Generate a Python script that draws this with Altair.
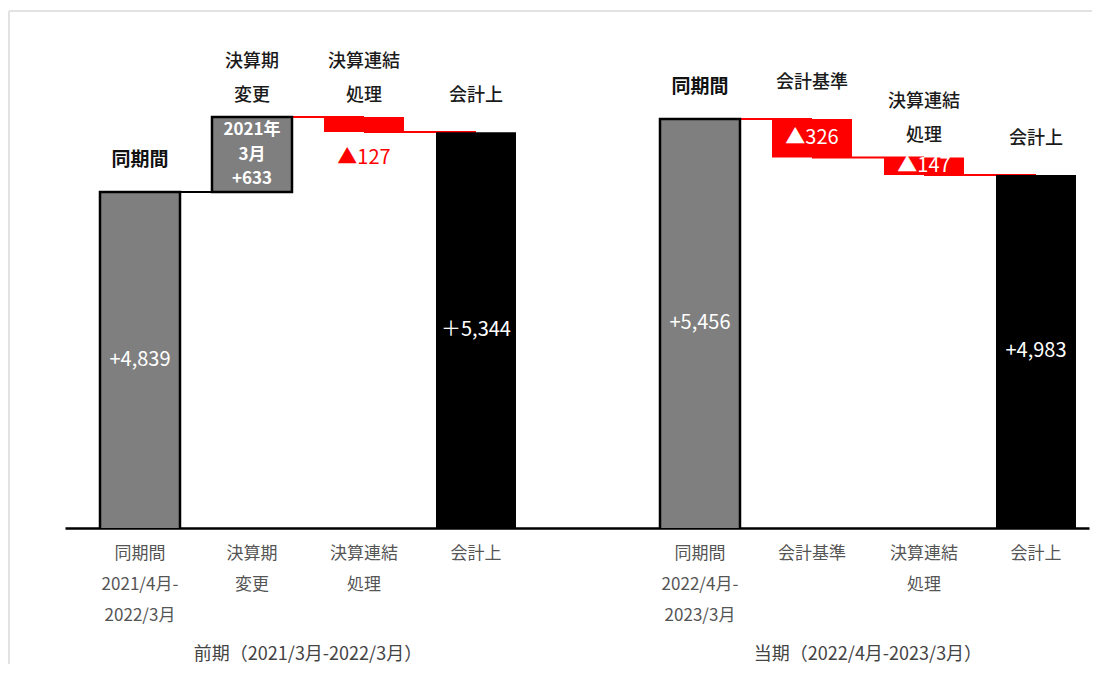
import altair as alt
import pandas as pd

# ---------------- data ----------------
keys = ["p1", "p2", "p3", "p4", "gap", "c1", "c2", "c3", "c4"]
groups = ["前期", "前期", "前期", "前期", "", "当期", "当期", "当期", "当期"]
kinds = ["start", "up", "down", "total", "gap", "start", "down", "down", "total"]
values = [4839, 633, -127, 5344, 0, 5456, -326, -147, 4983]
axis_labels = ["同期間|2021/4月-|2022/3月", "決算期|変更", "決算連結|処理", "会計上", "",
               "同期間|2022/4月-|2023/3月", "会計基準", "決算連結|処理", "会計上"]
top_labels = ["同期間", "決算期|変更", "決算連結|処理", "会計上", "",
              "同期間", "会計基準", "決算連結|処理", "会計上"]
value_labels = ["+4,839", "2021年|3月|+633", "▲127", "＋5,344", "",
                "+5,456", "▲326", "▲147", "+4,983"]
group_labels = ["前期（2021/3月-2022/3月）", "当期（2022/4月-2023/3月）"]
group_anchor = ["p2", "c2"]

# ---------------- layout / style ----------------
W, H = 1024, 509
Y_DOMAIN = [2000, 6300]
below_keys = {"p3"}
FONT = "Noto Sans CJK JP"

rows = []
run = 0
for i, k in enumerate(keys):
    kind, v = kinds[i], values[i]
    if kind == "gap":
        continue
    if kind in ("start", "total"):
        base, top = 0, v
        run = v
    elif kind == "up":
        base, top = run, run + v
        run += v
    else:
        top, base = run, run + v
        run += v
    vis_base = max(base, Y_DOMAIN[0])
    rows.append(dict(key=k, group=groups[i], kind=kind, base=base, top=top,
                     mid=(vis_base + top) / 2, level=run,
                     top_label=top_labels[i], value_label=value_labels[i],
                     nlines=len(top_labels[i].split("|"))))
df = pd.DataFrame(rows)

conn = []
for a, b in zip(rows[:-1], rows[1:]):
    if a["group"] == b["group"]:
        conn.append(dict(k1=a["key"], k2=b["key"], level=a["level"],
                         col="black" if b["kind"] == "up" else "red"))
cdf = pd.DataFrame(conn)

gdf = pd.DataFrame(dict(key=group_anchor, label=group_labels))

label_expr = "split([" + ",".join("'%s'" % s for s in axis_labels) + "][indexof([" + \
    ",".join("'%s'" % k for k in keys) + "], datum.value)], '|')"

xscale = alt.Scale(domain=keys, paddingInner=0.2857, paddingOuter=0.2143, align=0.729)
xaxis = alt.Axis(title=None, ticks=False, labelAngle=0, labelExpr=label_expr,
                 labelFontSize=17, labelColor="#555555", labelLineHeight=31,
                 labelPadding=17, domainColor="black", domainWidth=2.5,
                 labelOverlap=False, labelLimit=0, labelFont=FONT)
yscale = alt.Scale(domain=Y_DOMAIN, zero=False, nice=False)


def X(field):
    return alt.X(field + ":N", scale=xscale, axis=xaxis, sort=keys)


def Y(field):
    return alt.Y(field + ":Q", scale=yscale, axis=None)


one = pd.DataFrame({"a": [0]})
frame_top = alt.Chart(one).mark_rule(stroke="#e2e2e2", strokeWidth=2).encode(
    x=alt.value(-56), x2=alt.value(1200), y=alt.value(-8))
frame_left = alt.Chart(one).mark_rule(stroke="#e2e2e2", strokeWidth=2).encode(
    x=alt.value(-56), y=alt.value(-8), y2=alt.value(800))

rules = alt.Chart(cdf).mark_rule(strokeWidth=2).encode(
    x=X("k1"), x2="k2", y=Y("level"),
    color=alt.Color("col:N", scale=None, legend=None))

gray = alt.Chart(df[df.kind.isin(["start", "up"])]).mark_bar(
    clip=True, color="#7f7f7f", stroke="black", strokeWidth=2.5
).encode(x=X("key"), y=Y("base"), y2="top")

red = alt.Chart(df[df.kind == "down"]).mark_bar(clip=True, color="#ff0000").encode(
    x=X("key"), y=Y("base"), y2="top")

black = alt.Chart(df[df.kind == "total"]).mark_bar(clip=True, color="#000000").encode(
    x=X("key"), y=Y("base"), y2="top")


def lines_text(data, field, **kw):
    return alt.Chart(data).transform_calculate(
        t="split(datum.%s, '|')" % field
    ).mark_text(font=FONT, **kw)


top_start = lines_text(df[df.kind == "start"], "top_label", baseline="middle", dy=-32,
                       fontSize=19, fontWeight="bold", color="#111111").encode(
    x=X("key"), y=Y("top"), text="t:N")
top_single = lines_text(df[(df.kind != "start") & (df.nlines == 1)], "top_label",
                        baseline="middle", dy=-36, fontSize=18, fontWeight=500,
                        color="#1a1a1a").encode(
    x=X("key"), y=Y("top"), text="t:N")
top_multi = lines_text(df[df.nlines == 2], "top_label", baseline="middle", dy=-55,
                       lineHeight=34, fontSize=18, fontWeight=500, color="#1a1a1a").encode(
    x=X("key"), y=Y("top"), text="t:N")

inner_tot = lines_text(df[df.kind.isin(["start", "total"])], "value_label",
                       baseline="middle", fontSize=20, color="white").encode(
    x=X("key"), y=Y("mid"), text="t:N")
inner_up = lines_text(df[df.kind == "up"], "value_label", baseline="middle", dy=-24,
                      fontSize=17, fontWeight="bold", lineHeight=24.5, color="white").encode(
    x=X("key"), y=Y("mid"), text="t:N")
inner_down = lines_text(df[(df.kind == "down") & (~df.key.isin(below_keys))], "value_label",
                        baseline="middle", fontSize=20, color="white").encode(
    x=X("key"), y=Y("mid"), text="t:N")
below_down = lines_text(df[df.key.isin(below_keys)], "value_label",
                        baseline="middle", dy=26, fontSize=20, color="#ff0000").encode(
    x=X("key"), y=Y("base"), text="t:N")

group_text = alt.Chart(gdf).mark_text(font=FONT, fontSize=18, color="#444444",
                                      baseline="middle", dx=56).encode(
    x=X("key"), y=alt.value(H + 127), text="label:N")

chart = alt.layer(frame_top, frame_left, rules, gray, red, black, top_start, top_single,
                  top_multi, inner_tot, inner_up, inner_down, below_down, group_text).properties(
    width=W, height=H,
    autosize=alt.AutoSizeParams(type="none"),
    padding={"left": 57, "top": 11, "right": 3, "bottom": 136},
).configure(font=FONT).configure_view(strokeWidth=0, stroke="transparent")

chart.save("out.html", embed_options={"renderer": "svg", "actions": False})
